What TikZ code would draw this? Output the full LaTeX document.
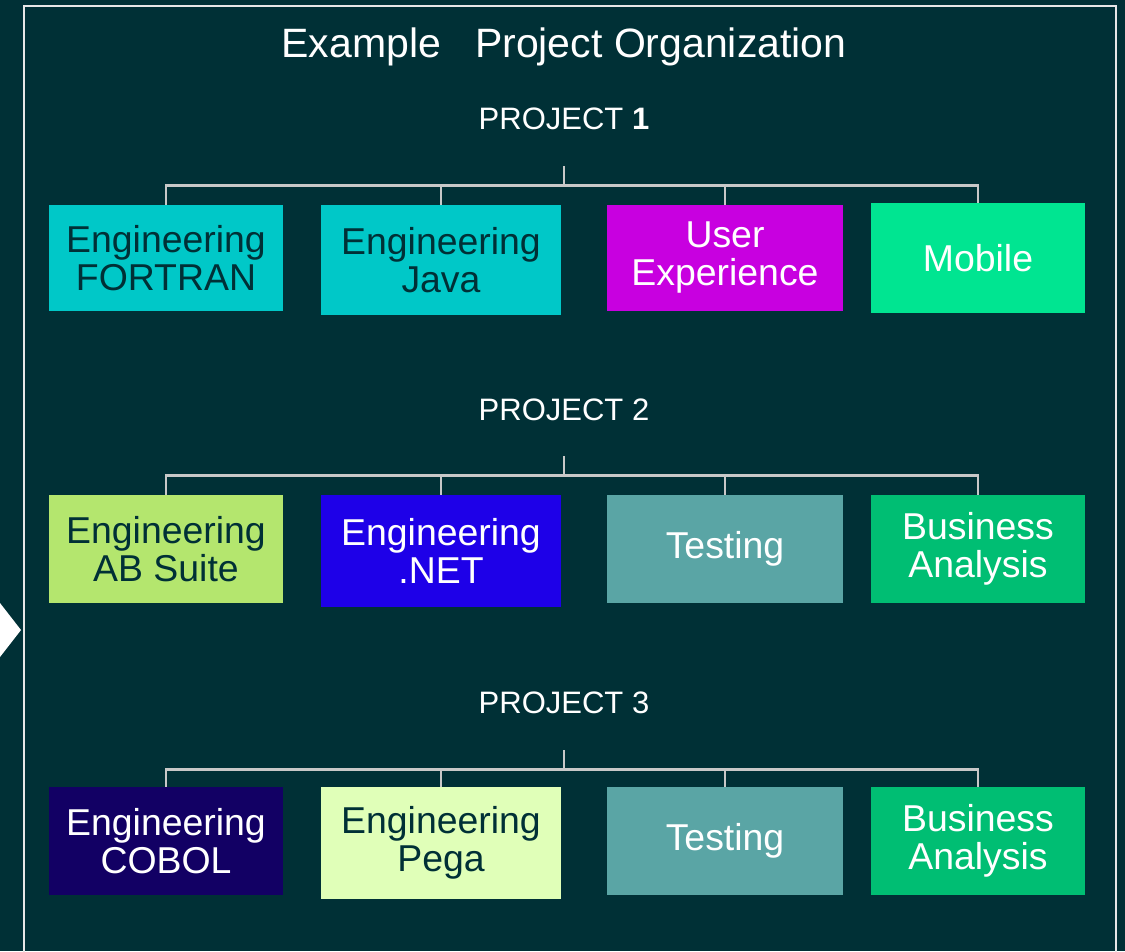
\documentclass[tikz,border=0pt]{standalone}
\usepackage{fontspec}
\setmainfont{Liberation Sans}
\definecolor{bg}{HTML}{003036}
\definecolor{conn}{HTML}{C8C8C8}
\definecolor{framec}{HTML}{E6E6E6}
\definecolor{cyanbox}{HTML}{00C8C8}
\definecolor{magbox}{HTML}{C800E0}
\definecolor{mobbox}{HTML}{00E591}
\definecolor{abbox}{HTML}{B4E66E}
\definecolor{netbox}{HTML}{1E00E8}
\definecolor{testbox}{HTML}{5AA5A5}
\definecolor{babox}{HTML}{00BE73}
\definecolor{cobbox}{HTML}{120064}
\definecolor{pegabox}{HTML}{E0FFB8}
\tikzset{
  unitbox/.style={inner sep=0pt, align=center, anchor=center,
    font=\fontsize{37.4}{38}\selectfont},
  darktxt/.style={text=bg},
  lighttxt/.style={text=white},
  projlabel/.style={anchor=base, text=white, inner sep=0pt,
    font=\fontsize{31}{33}\selectfont},
  connector/.style={draw=conn, line width=2.5pt},
}
\newcommand{\ubox}[8]{% name, x1, y1, x2, y2, fill, textstyle, text
  \node[unitbox, #7, fill=#6, minimum width={(#4-#2)*1pt}, minimum height={(#5-#3)*1pt}]
    (#1) at ({(#2+#4)/2},{(#3+#5)/2}) {#8};}
\begin{document}
\begin{tikzpicture}[x=1pt,y=-1pt]
\useasboundingbox (0,0) rectangle (1125,951);
\fill[bg] (0,0) rectangle (1125,951);
% frame
\draw[framec, line width=2pt] (24,980) -- (24,6) -- (1116,6) -- (1116,980);
% left arrow
\fill[white] (0,603) -- (21,630) -- (0,657) -- cycle;
% title
\node[anchor=base, text=white, inner sep=0pt, font=\fontsize{41}{45}\selectfont]
  (title) at (564,57.7) {Example~~~Project Organization};
% project labels
\node[projlabel] (p1) at (564,129.3) {PROJECT \textbf{1}};
\node[projlabel] (p2) at (564,420.7) {PROJECT 2};
\node[projlabel] (p3) at (564,713.3) {PROJECT 3};
% row 1
\ubox{a1}{49}{205}{283}{311}{cyanbox}{darktxt}{Engineering\\FORTRAN}
\ubox{a2}{321}{205}{561}{315}{cyanbox}{darktxt}{Engineering\\Java}
\ubox{a3}{607}{205}{843}{311}{magbox}{lighttxt}{User\\Experience}
\ubox{a4}{871}{203}{1085}{313}{mobbox}{lighttxt}{Mobile}
% row 2
\ubox{b1}{49}{495}{283}{603}{abbox}{darktxt}{Engineering\\AB Suite}
\ubox{b2}{321}{495}{561}{607}{netbox}{lighttxt}{Engineering\\.NET}
\ubox{b3}{607}{495}{843}{603}{testbox}{lighttxt}{Testing}
\ubox{b4}{871}{495}{1085}{603}{babox}{lighttxt}{Business\\Analysis}
% row 3
\ubox{c1}{49}{787}{283}{895}{cobbox}{lighttxt}{Engineering\\COBOL}
\ubox{c2}{321}{787}{561}{899}{pegabox}{darktxt}{Engineering\\Pega}
\ubox{c3}{607}{787}{843}{895}{testbox}{lighttxt}{Testing}
\ubox{c4}{871}{787}{1085}{895}{babox}{lighttxt}{Business\\Analysis}
% connectors
\coordinate (s1) at (564,166);   \coordinate (h1) at (564,185.5);
\coordinate (s2) at (564,456);   \coordinate (h2) at (564,475.7);
\coordinate (s3) at (564,750);   \coordinate (h3) at (564,769.3);
\foreach \r in {1,2,3}{
  \draw[connector] (s\r) -- (h\r);
}
\foreach \n in {a1,a2,a3,a4}{\draw[connector] (h1) -| (\n.north);}
\foreach \n in {b1,b2,b3,b4}{\draw[connector] (h2) -| (\n.north);}
\foreach \n in {c1,c2,c3,c4}{\draw[connector] (h3) -| (\n.north);}
\end{tikzpicture}
\end{document}
